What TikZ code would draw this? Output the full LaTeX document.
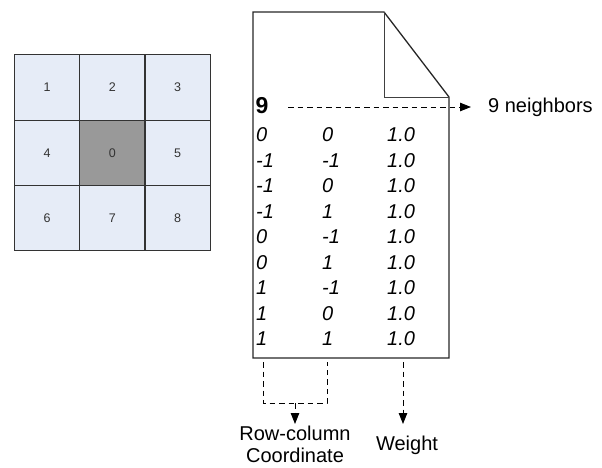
\documentclass[tikz,border=0pt]{standalone}
\usepackage{fontspec}
\setmainfont{Liberation Sans}
\usetikzlibrary{arrows.meta}
\definecolor{cellblue}{HTML}{E6ECF7}
\definecolor{cellgray}{HTML}{999999}
\definecolor{gridline}{HTML}{333333}
\begin{document}
\begin{tikzpicture}[x=1pt,y=-1pt,
  cell/.style={draw=gridline,line width=1.2pt,fill=cellblue,minimum size=65.3pt,
    inner sep=0pt,font=\fontsize{12.5}{14}\selectfont,text=black!80},
  centrecell/.style={cell,fill=cellgray},
  docline/.style={line width=1.3pt,draw=black!85,line join=miter},
  foldline/.style={line width=1pt,draw=black!75},
  entry/.style={anchor=west,inner sep=0pt,font=\fontsize{20}{22}\selectfont\itshape},
  guide/.style={dashed,dash pattern=on 5.5pt off 4pt,line width=0.9pt},
  tip/.style={-{Triangle[length=11pt,width=8.5pt]}},
  label/.style={inner sep=0pt,font=\fontsize{20}{22.5}\selectfont,align=center}]
\useasboundingbox (0,0) rectangle (602,467);

% 3x3 neighbourhood
\node[cell] (c1) at (47,87.5) {1};
\node[cell] (c2) at (112.3,87.5) {2};
\node[cell] (c3) at (177.6,87.5) {3};
\node[cell] (c4) at (47,152.8) {4};
\node[centrecell] (c0) at (112.3,152.8) {0};
\node[cell] (c5) at (177.6,152.8) {5};
\node[cell] (c6) at (47,218.1) {6};
\node[cell] (c7) at (112.3,218.1) {7};
\node[cell] (c8) at (177.6,218.1) {8};

% weights file page with folded corner
\draw[docline] (253,12) -- (384,12) -- (449,97) -- (449,358) -- (253,358) -- cycle;
\draw[foldline] (384,12) -- (384,97) -- (449,97);

% header: number of neighbours
\node[anchor=west,inner sep=0pt,font=\fontsize{23}{26}\selectfont\bfseries] (count) at (255.5,106) {9};
\coordinate (countend) at (288,107);
\coordinate (counttip) at (471,107);
\node[label,anchor=west] (nb) at (488,107) {9 neighbors};
\draw[guide,tip] (countend) -- (counttip);

% offset rows: row, column, weight
\foreach \r/\c [count=\i from 0] in {0/0,-1/-1,-1/0,-1/1,0/-1,0/1,1/-1,1/0,1/1}{
  \node[entry] (r\i) at (256,135+25.5*\i) {\r};
  \node[entry] (k\i) at (322,135+25.5*\i) {\c};
  \node[entry] (w\i) at (387,135+25.5*\i) {1.0};
}

% column guides
\coordinate (rowtop) at (263,362);
\coordinate (coltop) at (327,362);
\coordinate (rowbot) at (263,403);
\coordinate (colbot) at (327,403);
\coordinate (pairmid) at (295,403);
\coordinate (pairtip) at (295,424);
\coordinate (wtop) at (403,362);
\coordinate (wtip) at (403,424);
\draw[guide] (rowtop) -- (rowbot) -- (colbot) -- (coltop);
\draw[guide,tip] (pairmid) -- (pairtip);
\draw[guide,tip] (wtop) -- (wtip);

\node[label] (rc) at (295,444.5) {Row-column\\Coordinate};
\node[label] (wt) at (407,445) {Weight};
\end{tikzpicture}
\end{document}
